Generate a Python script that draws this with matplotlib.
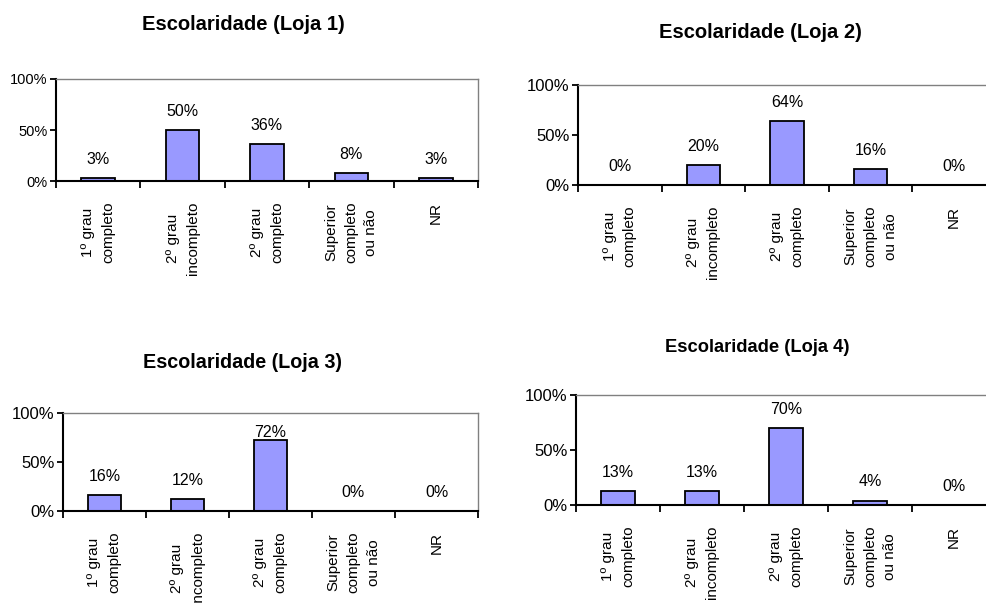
import numpy as np
import matplotlib
matplotlib.use('Agg')
import matplotlib.pyplot as plt
from matplotlib.ticker import PercentFormatter

plt.rcParams['font.family'] = ['Liberation Sans', 'DejaVu Sans']

categories = ['1º grau\ncompleto', '2º grau\nincompleto', '2º grau\ncompleto',
              'Superior\ncompleto\nou não', 'NR']
titles = ['Escolaridade (Loja 1)', 'Escolaridade (Loja 2)',
          'Escolaridade (Loja 3)', 'Escolaridade (Loja 4)']
loja1 = [3, 50, 36, 8, 3]
loja2 = [0, 20, 64, 16, 0]
loja3 = [16, 12, 72, 0, 0]
loja4 = [13, 13, 70, 4, 0]
series = [loja1, loja2, loja3, loja4]

W, H = 987, 603
# axes boxes in pixels: left, right, top, bottom
boxes = [(56, 478, 79, 181), (578, 996, 85, 185),
         (63, 478, 413, 511), (576, 996, 395, 505)]
# title centre (x, y) in pixels and size
title_pos = [(243, 24, 14.5), (760, 33, 14.5), (243, 363, 14.2), (757, 348, 13.2)]
ytick_size = [10.5, 12, 12, 12]
# data label offsets (points), 72% in Loja 3 sits on the bar
label_off = [[8] * 5, [8] * 5, [8, 8, 0, 8, 8], [8] * 5]

fig = plt.figure(figsize=(W / 100, H / 100), dpi=100)
x = np.arange(len(categories))

for i, vals in enumerate(series):
    l, r, t, b = boxes[i]
    ax = fig.add_axes([l / W, 1 - b / H, (r - l) / W, (b - t) / H])
    ax.bar(x, vals, width=0.4, color='#9999ff', edgecolor='black', linewidth=1.3)
    ax.set_xlim(-0.5, len(categories) - 0.5)
    ax.set_ylim(0, 100)
    ax.set_yticks([0, 50, 100])
    ax.yaxis.set_major_formatter(PercentFormatter(decimals=0))
    ax.set_xticks(np.arange(-0.5, len(categories)))
    ax.set_xticklabels([])
    ax.set_xticks(x, minor=True)
    ax.set_xticklabels(categories, minor=True, rotation=90, ha='center', va='top',
                       multialignment='center', fontsize=11, linespacing=1.55)
    ax.tick_params(axis='x', which='minor', length=0, pad=15)
    ax.tick_params(axis='x', which='major', length=5, width=1.3, direction='out')
    ax.tick_params(axis='y', length=4, width=1.3, direction='out',
                   labelsize=ytick_size[i], pad=2)
    for s in ['left', 'bottom']:
        ax.spines[s].set_linewidth(1.5)
        ax.spines[s].set_color('black')
    for s in ['top', 'right']:
        ax.spines[s].set_linewidth(1.0)
        ax.spines[s].set_color('#808080')
    for j, v in enumerate(vals):
        ax.annotate(f'{v}%', (x[j], v), xytext=(0, label_off[i][j]),
                    textcoords='offset points', ha='center', va='bottom', fontsize=11.5)
    tx, ty, ts = title_pos[i]
    fig.text(tx / W, 1 - ty / H, titles[i], ha='center', va='center',
             fontsize=ts, fontweight='bold')

fig.savefig('out.png', dpi=100)
